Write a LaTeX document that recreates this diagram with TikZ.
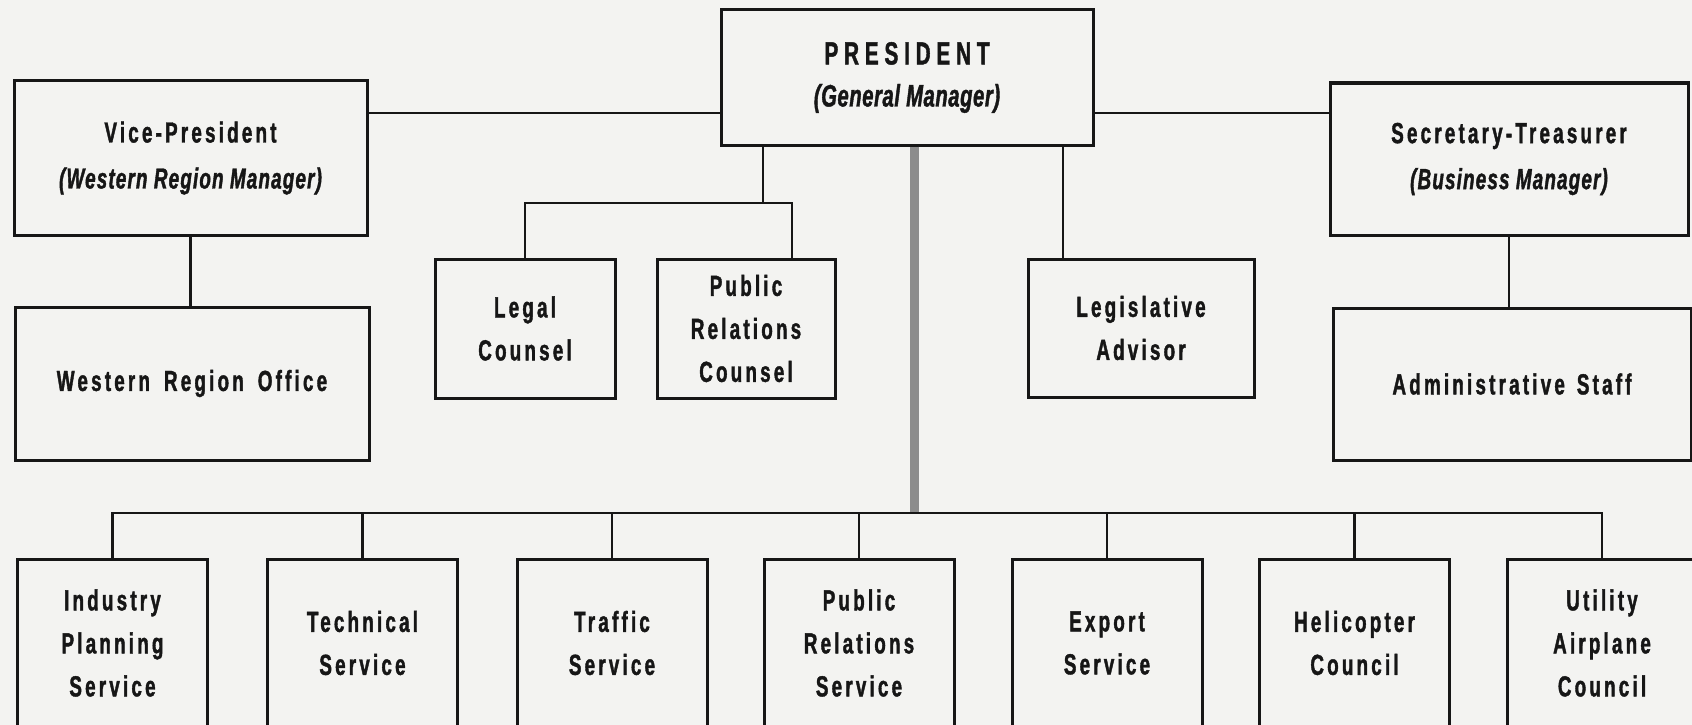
\documentclass[tikz,border=0pt]{standalone}
\usepackage{fontspec}
\usepackage{tikz}
\usetikzlibrary{positioning,calc}
\newfontfamily\boxfont[FakeStretch=0.65,LetterSpace=11,
  BoldFeatures={FakeBold=1.3},BoldItalicFeatures={FakeBold=1.3}]{Liberation Sans}
\newcommand{\role}[1]{{\itshape\addfontfeature{LetterSpace=4}#1}}
\newcommand{\chief}[1]{{\addfontfeature{LetterSpace=18}\fontsize{32}{43}\selectfont #1}}
\definecolor{paper}{RGB}{243,243,241}
\definecolor{ink}{RGB}{22,22,22}
\definecolor{spinegray}{RGB}{140,140,140}

\tikzset{
  unit/.style={draw=ink, line width=3pt, fill=paper, align=center, inner sep=0pt,
    text=ink, font=\boxfont\bfseries\fontsize{29}{43}\selectfont},
  lead/.style={draw=ink, line width=2.4pt},
  spine/.style={draw=spinegray, line width=9pt},
}

\begin{document}
\begin{tikzpicture}[x=1pt, y=-1pt]
    \useasboundingbox (0,0) rectangle (1692,725);
    \fill[paper] (0,0) rectangle (1692,725);
    \clip (0,0) rectangle (1692,725);

    % top level
    \node [unit, minimum width=372pt, minimum height=135pt] (pres) at (907,77.5)
      {\chief{PRESIDENT}\\[-1pt]{\itshape\fontsize{31}{43}\selectfont\addfontfeature{LetterSpace=2}(General Manager)}};
    \node [unit, minimum width=353pt, minimum height=154pt] (vp) at (190.5,158)
      {Vice-President\\[3pt]\role{(Western Region Manager)}};
    \node [unit, minimum width=358pt, minimum height=152pt] (sec) at (1509,159)
      {Secretary-Treasurer\\[3pt]\role{(Business Manager)}};

    % staff
    \node [unit, minimum width=354pt, minimum height=153pt] (wro) at (192,383.5)
      {Western\hspace{14pt}Region\hspace{14pt}Office};
    \node [unit, minimum width=358pt, minimum height=152pt] (adm) at (1512,384)
      {Administrative\hspace{12pt}Staff};
    \node [unit, minimum width=180pt, minimum height=139pt] (legal) at (525,328.5)
      {Legal\\Counsel};
    \node [unit, minimum width=178pt, minimum height=139pt] (prc) at (746,328.5)
      {Public\\Relations\\Counsel};
    \node [unit, minimum width=226pt, minimum height=138pt] (legis) at (1141,328)
      {Legislative\\Advisor};

    % services
    \node [unit, minimum width=190pt, minimum height=168pt] (ind) at (112.5,643)
      {Industry\\Planning\\Service};
    \node [unit, minimum width=190pt, minimum height=168pt] (tech) at (362.5,643)
      {Technical\\Service};
    \node [unit, minimum width=190pt, minimum height=168pt] (traf) at (612,643)
      {Traffic\\Service};
    \node [unit, minimum width=190pt, minimum height=168pt] (prs) at (859,643)
      {Public\\Relations\\Service};
    \node [unit, minimum width=190pt, minimum height=168pt] (exp) at (1107,643)
      {Export\\Service};
    \node [unit, minimum width=190pt, minimum height=168pt] (heli) at (1354.5,643)
      {Helicopter\\Council};
    \node [unit, minimum width=190pt, minimum height=168pt] (util) at (1602,643)
      {Utility\\Airplane\\Council};

    \coordinate (hline) at (0,113);
    \coordinate (cbr) at (763,203);
    \coordinate (bus) at (914,513);

    \draw [lead] (vp.east |- hline) -- (pres.west |- hline);
    \draw [lead] (pres.east |- hline) -- (sec.west |- hline);
    \draw [lead] (vp.south) -- (vp.south |- wro.north);
    \draw [lead] (sec.south) -- (sec.south |- adm.north);
    \draw [lead] (pres.south -| cbr) -- (cbr);
    \draw [lead] (legal.north) |- (cbr) -| ([xshift=46pt]prc.north);
    \draw [lead] ([xshift=-78pt]legis.north) -- ([xshift=-78pt]legis.north |- pres.south);
    \draw [spine] (pres.south -| bus) -- (bus);
    \draw [lead] (ind.north) |- (bus) -| (util.north);
    \foreach \s in {tech,traf,prs,exp,heli}
      \draw [lead] (\s.north) -- (\s.north |- bus);
\end{tikzpicture}
\end{document}
